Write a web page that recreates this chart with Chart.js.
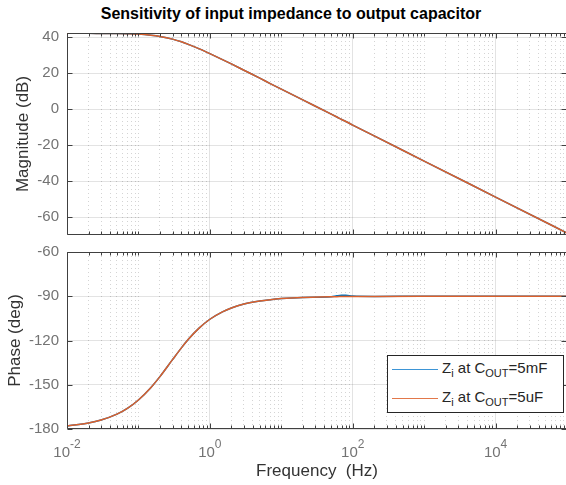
<!DOCTYPE html>
<html>
<head>
<meta charset="utf-8">
<script src="https://cdn.jsdelivr.net/npm/chart.js@4/dist/chart.umd.min.js"></script>
<style>
	body { margin: 0; width: 566px; height: 485px; overflow: hidden; background: #fff; position: relative; font-family: "Liberation Sans", Arial, sans-serif; }
	#title { position: absolute; left: 91px; top: 4px; width: 400px; text-align: center; font-weight: bold; font-size: 16px; line-height: 20px; color: #000; white-space: nowrap; }
	#magChart { position: absolute; left: 0; top: 0; }
	#phaseChart { position: absolute; left: 0; top: 245px; }
	#legend { position: absolute; left: 387px; top: 355px; width: 175px; height: 56px; border: 1px solid #262626; background: #fff; color: #262626; font-size: 15px; }
	#legend .row { position: absolute; left: 0; height: 20px; line-height: 20px; width: 100%; }
	#legend .swatch { position: absolute; left: 4px; top: 9px; width: 46px; border-top: 1.5px solid; }
	#legend .txt { position: absolute; left: 54px; top: -2px; white-space: nowrap; }
	#legend sub { font-size: 11px; vertical-align: -4px; line-height: 0; }
</style>
</head>
<body>
<div id="title">Sensitivity of input impedance to output capacitor</div>
<canvas id="magChart" width="568" height="245"></canvas>
<canvas id="phaseChart" width="568" height="240"></canvas>
<div id="legend">
	<div class="row" style="top: 4px;"><span class="swatch" style="border-color: #3d95d6;"></span><span class="txt">Z<sub>i</sub> at C<sub>OUT</sub>=5mF</span></div>
	<div class="row" style="top: 33px;"><span class="swatch" style="border-color: #e2784a;"></span><span class="txt">Z<sub>i</sub> at C<sub>OUT</sub>=5uF</span></div>
</div>
<script>
// frequency points (Hz)
const freq = [0.01, 0.02, 0.03, 0.05, 0.07, 0.1, 0.15, 0.2, 0.3, 0.4, 0.5, 0.7, 1, 1.5, 2, 3, 5, 7, 10, 20, 50, 60, 70, 80, 100, 200, 1000, 10000, 100000];

// magnitude (dB) - both curves sit on top of each other
const mag5mF = [42.1, 42.1, 42.05, 42.0, 41.9, 41.7, 41.1, 40.4, 38.9, 37.4, 36.0, 33.6, 30.8, 27.5, 25.1, 21.6, 17.2, 14.2, 11.1, 5.1, -2.8, -4.4, -5.8, -6.9, -8.9, -14.9, -28.9, -48.9, -68.9];
const mag5uF = [42.1, 42.1, 42.05, 42.0, 41.9, 41.7, 41.1, 40.4, 38.9, 37.4, 36.0, 33.6, 30.8, 27.5, 25.1, 21.6, 17.2, 14.2, 11.1, 5.1, -2.8, -4.4, -5.8, -6.9, -8.9, -14.9, -28.9, -48.9, -68.9];

// phase (deg)
const phase5mF = [-177.9, -175.9, -173.9, -169.9, -166.0, -160.3, -151.8, -144.5, -133.0, -125.0, -119.2, -111.8, -105.6, -100.6, -98.0, -95.3, -93.2, -92.3, -91.6, -90.8, -90.3, -89.7, -89.4, -89.4, -89.9, -90.1, -90.0, -90.0, -90.0];
const phase5uF = [-177.9, -175.9, -173.9, -169.9, -166.0, -160.3, -151.8, -144.5, -133.0, -125.0, -119.2, -111.8, -105.6, -100.6, -98.0, -95.3, -93.2, -92.3, -91.6, -90.8, -90.3, -90.3, -90.2, -90.2, -90.2, -90.1, -90.0, -90.0, -90.0];

// tick labels
const xTickValues = [0.01, 1, 100, 10000];
const xTickLabels = ["10^-2", "10^0", "10^2", "10^4"];
const magTicks = [-60, -40, -20, 0, 20, 40];
const phaseTicks = [-180, -150, -120, -90, -60];

const blue = "#0072BD";
const orange = "#DC602B";
const axisColor = "#404040";
const tickText = "#737373";
const labelText = "#333333";
const majorGrid = "rgba(38,38,38,0.13)";
const minorGrid = "rgba(38,38,38,0.2)";
const fontFamily = '"Liberation Sans", Arial, sans-serif';

Chart.defaults.font.family = fontFamily;
Chart.defaults.animation = false;

const points = (ys) => freq.map((f, i) => ({ x: f, y: ys[i] }));

const isMajorX = (v) => xTickValues.some((m) => Math.abs(v / m - 1) < 1e-6);

const buildXTicks = (axis) => {
	const ticks = [];
	for (let e = -2; e <= 4; e++) {
		for (let k = 1; k <= 9; k++) {
			const v = k * Math.pow(10, e);
			ticks.push({ value: v, major: isMajorX(v) });
		}
	}
	ticks.push({ value: 100000, major: false });
	axis.ticks = ticks;
};

// MATLAB-like box with inward tick marks, plus 10^n labels
const boxPlugin = {
	id: "matlabBox",
	afterDraw(chart) {
		const { ctx, chartArea: a, scales } = chart;
		const l = Math.round(a.left) + 0.5;
		const r = Math.round(a.right) - 0.5;
		const t = Math.round(a.top) + 0.5;
		const b = Math.round(a.bottom) - 0.5;
		ctx.save();
		ctx.strokeStyle = axisColor;
		ctx.lineWidth = 1;
		ctx.beginPath();
		scales.x.ticks.forEach((tk) => {
			const px = Math.round(scales.x.getPixelForValue(tk.value)) + 0.5;
			const len = tk.major ? 5 : 3;
			ctx.moveTo(px, b);
			ctx.lineTo(px, b - len);
			ctx.moveTo(px, t);
			ctx.lineTo(px, t + len);
		});
		scales.y.ticks.forEach((tk) => {
			const py = Math.round(scales.y.getPixelForValue(tk.value)) + 0.5;
			ctx.moveTo(l, py);
			ctx.lineTo(l + 5, py);
			ctx.moveTo(r, py);
			ctx.lineTo(r - 5, py);
		});
		ctx.rect(l, t, r - l, b - t);
		ctx.stroke();

		if (chart.options.showXLabels) {
			ctx.fillStyle = tickText;
			ctx.textBaseline = "alphabetic";
			ctx.textAlign = "left";
			const baseY = a.bottom + 28;
			xTickValues.forEach((v, i) => {
				const [base, exp] = xTickLabels[i].split("^");
				ctx.font = "15px " + fontFamily;
				const wb = ctx.measureText(base).width;
				ctx.font = "12px " + fontFamily;
				const we = ctx.measureText(exp).width;
				const x0 = scales.x.getPixelForValue(v) - (wb + we) / 2;
				ctx.font = "15px " + fontFamily;
				ctx.fillText(base, x0, baseY);
				ctx.font = "12px " + fontFamily;
				ctx.fillText(exp, x0 + wb, baseY - 9);
			});
		}
		ctx.restore();
	},
};

const xGrid = {
	color: (c) => (c.tick && c.tick.major ? majorGrid : minorGrid),
	lineWidth: 1,
	drawTicks: false,
};
const xBorder = {
	display: false,
	dash: (c) => (c.tick && !c.tick.major ? [1, 3] : []),
};

function makeChart(id, datasets, yMin, yMax, yTicks, yTitle, yTitlePad, showX) {
	return new Chart(document.getElementById(id), {
		type: "line",
		data: { datasets: datasets },
		plugins: [boxPlugin],
		options: {
			responsive: false,
			events: [],
			showXLabels: showX,
			layout: {
				autoPadding: false,
				padding: showX ? { top: 7, bottom: 0, left: 0, right: 1 } : { top: 33, bottom: 10, left: 0, right: 1 },
			},
			plugins: { legend: { display: false }, tooltip: { enabled: false } },
			elements: { point: { radius: 0 } },
			scales: {
				x: {
					type: "logarithmic",
					min: 0.01,
					max: 100000,
					afterBuildTicks: buildXTicks,
					afterFit: (s) => {
						s.height = showX ? 56 : 0;
						s.paddingLeft = 0;
						s.paddingRight = 0;
					},
					grid: xGrid,
					border: xBorder,
					ticks: { display: false },
					title: {
						display: showX,
						text: "Frequency  (Hz)",
						color: labelText,
						font: { size: 17 },
						padding: { top: 0, bottom: 3 },
					},
				},
				y: {
					min: yMin,
					max: yMax,
					afterBuildTicks: (axis) => { axis.ticks = yTicks.map((v) => ({ value: v })); },
					afterFit: (s) => {
						s.width = 67;
						s.paddingTop = 0;
						s.paddingBottom = 0;
					},
					grid: { color: majorGrid, drawTicks: false },
					border: { display: false },
					ticks: { padding: 8, color: tickText, font: { size: 15 } },
					title: {
						display: true,
						text: yTitle,
						color: labelText,
						font: { size: 17 },
						padding: { top: yTitlePad, bottom: 0 },
					},
				},
			},
		},
	});
}

makeChart("magChart", [
	{ label: "Zi at COUT=5mF", data: points(mag5mF), borderColor: blue, borderWidth: 1.5, cubicInterpolationMode: "monotone", order: 1 },
	{ label: "Zi at COUT=5uF", data: points(mag5uF), borderColor: orange, borderWidth: 1.5, cubicInterpolationMode: "monotone", order: 0 },
], -70, 42.3, magTicks, "Magnitude (dB)", 13, false);

makeChart("phaseChart", [
	{ label: "Zi at COUT=5mF", data: points(phase5mF), borderColor: blue, borderWidth: 1.5, cubicInterpolationMode: "monotone", order: 1 },
	{ label: "Zi at COUT=5uF", data: points(phase5uF), borderColor: orange, borderWidth: 1.5, cubicInterpolationMode: "monotone", order: 0 },
], -180, -60, phaseTicks, "Phase (deg)", 5, true);
</script>
</body>
</html>
